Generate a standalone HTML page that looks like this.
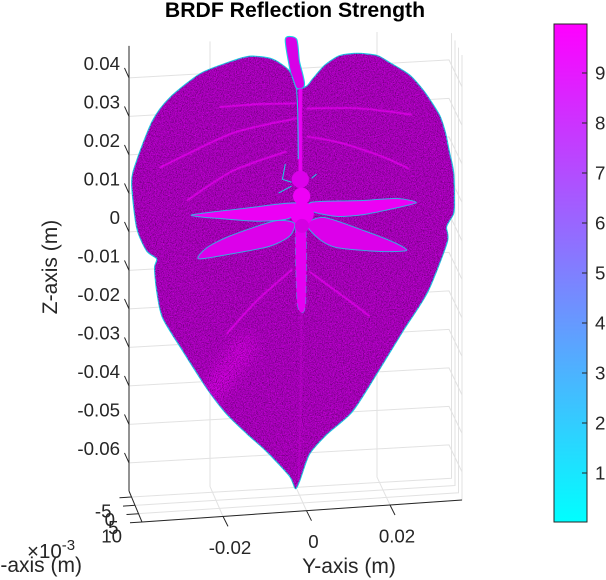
<!DOCTYPE html>
<html lang="en">
<head>
<meta charset="utf-8">
<title>BRDF Reflection Strength</title>
<style>
html,body{margin:0;padding:0;background:#fff;width:606px;height:580px;overflow:hidden}
svg{display:block;font-family:"Liberation Sans",Arial,sans-serif}
</style>
</head>
<body>
<svg id="chart" width="606" height="580" viewBox="0 0 606 580" xmlns="http://www.w3.org/2000/svg">
<defs>
<linearGradient id="coolMap" x1="0" y1="1" x2="0" y2="0">
<stop offset="0" stop-color="#00ffff"/>
<stop offset="1" stop-color="#ff00ff"/>
</linearGradient>
<filter id="speckleDark" x="0" y="0" width="100%" height="100%" color-interpolation-filters="sRGB">
<feTurbulence type="fractalNoise" baseFrequency="0.85" numOctaves="2" seed="4"/>
<feColorMatrix type="matrix" values="0 0 0 0 0.42  0 0 0 0 0  0 0 0 0 0.46  1.8 1.8 0 0 -1.55"/>
</filter>
<filter id="speckleBright" x="0" y="0" width="100%" height="100%" color-interpolation-filters="sRGB">
<feTurbulence type="fractalNoise" baseFrequency="0.9" numOctaves="2" seed="11"/>
<feColorMatrix type="matrix" values="0 0 0 0 0.88  0 0 0 0 0  0 0 0 0 0.95  1.8 1.8 0 0 -1.9"/>
</filter>
<filter id="soft" x="-30%" y="-30%" width="160%" height="160%"><feGaussianBlur stdDeviation="0.6"/></filter>
<filter id="softer" x="-50%" y="-50%" width="200%" height="200%"><feGaussianBlur stdDeviation="7"/></filter>
</defs>
<g id="grid"></g>
<g id="leaf"></g>
<g id="axes"></g>
<g id="colorbar"></g>
<text x="295" y="17" text-anchor="middle" font-size="21.2" font-weight="bold" fill="#000">BRDF Reflection Strength</text>
<text x="82" y="572" text-anchor="end" font-size="21" fill="#262626">X-axis (m)</text>
<text x="349" y="573" text-anchor="middle" font-size="21" fill="#262626">Y-axis (m)</text>
<text transform="translate(57 267) rotate(-90)" text-anchor="middle" font-size="21" fill="#262626">Z-axis (m)</text>
<text x="27" y="558" font-size="20.5" fill="#262626">×10<tspan dy="-8" font-size="15">-3</tspan></text>
</svg>
<script>
// Tick values
var zTicks = [-0.06, -0.05, -0.04, -0.03, -0.02, -0.01, 0, 0.01, 0.02, 0.03, 0.04];
var zTickLabels = ['-0.06', '-0.05', '-0.04', '-0.03', '-0.02', '-0.01', '0', '0.01', '0.02', '0.03', '0.04'];
var yTicks = [-0.02, 0, 0.02];
var yTickLabels = ['-0.02', '0', '0.02'];
var xTicks = [-0.005, 0, 0.005, 0.01];
var xTickLabels = ['-5', '0', '5', '10'];
var colorTicks = [1, 2, 3, 4, 5, 6, 7, 8, 9];
var colorLimits = [0.02, 9.98];

// Leaf outline in millimetres (y, z), on the plane x = 0
var leafY = [1.7, 3.1, 6, 9.6, 13.9, 18.6, 22, 26.3, 29.9, 33.5, 34.9, 35.9, 36.9, 37.1, 36.9, 35.2, 35.4, 30.7, 24.7, 18.4, 12.7, 6.5, 2.4, 0, -1, -2.4, -7.9, -12.5, -17.5, -22.3, -28, -32.8, -34.2, -34.7, -34.2, -36.6, -39, -40.2, -39, -35.2, -31.1, -23.9, -17.5, -12, -6.5, -2.4, -0.7];
var leafZ = [38.8, 40.5, 43.9, 46.2, 46.5, 45.6, 43.3, 40.1, 35.5, 29.2, 24.7, 19.4, 14.2, 6.4, 3.3, 0, -3.9, -16.6, -26.5, -37.2, -46.4, -52, -56.8, -63.7, -65.5, -62.2, -55.4, -50.6, -45, -37.9, -27.9, -19, -11.9, -5.9, -3.6, -1.4, 4.8, 16.6, 22.2, 32.3, 38, 43.7, 46.1, 47.5, 46.4, 43, 38.4];
var stemY = [-3.4, -0.7, 0, 1.2, -0.7, -2.2];
var stemZ = [51.4, 51.2, 45.4, 39.3, 36, 42.9];

// Veins
var veinNames = ['vein-left-1', 'vein-left-2', 'vein-left-3', 'vein-right-1', 'vein-right-2', 'vein-lower-left', 'vein-lower-right'];
var veinY = [[-0.7, -9.6, -19.2], [-0.7, -16, -33.5], [-3.1, -16, -27], [1.7, 14.4, 27], [1.7, 10.3, 19.8, 26.3], [-1.7, -10.3, -17.5], [2.4, 14.4, 16.8]];
var veinZ = [[34.5, 34.9, 34.8], [30.6, 27.8, 20], [22.2, 18, 11], [33, 32.2, 29.7], [25.8, 23.4, 19.3, 15.7], [-8.5, -16.2, -24.3], [-9.4, -19.8, -22]];
var midribY = [0, 0, 0.5];
var midribZ = [38.9, 16.8, -17];
var lowerMidribY = [0.5, 0.3, -0.2];
var lowerMidribZ = [-17, -40, -63.7];
var midribEdgeY = [-0.7, -0.4, -0.3];
var midribEdgeZ = [38.4, 32, 20];
var glowY = [-13, -21.5];
var glowZ = [-27.7, -40.1];

// Dragonfly
var wingNames = ['wing-upper-left', 'wing-upper-right', 'wing-lower-left', 'wing-lower-right'];
var wingY = [[-0.7, -12.7, -25.9, -18.4, -9.6, -2.4], [2.9, 15.1, 23.2, 28, 22.3, 15.1, 8.9, 3.1], [-6, -16.8, -22.3, -24.2, -16.8, -7.2, -2.4, -1.2], [6, 16, 23.2, 25.6, 19.2, 8.9, 4.8, 1.7]];
var wingZ = [[8.6, 8.1, 7.2, 5.7, 4.5, 4.8], [8.6, 8.2, 8.2, 6.8, 5.6, 4.5, 4.5, 6.2], [4.3, 1.1, -1.6, -4.3, -3.6, -2.2, 0.1, 3.4], [4.4, 0.1, -3.5, -5.5, -5.3, -3.6, -1.2, 2.9]];
var abdomenY = [-0.9, -0.6, 0.7, 1.5, 1.5];
var abdomenZ = [2.6, -17, -20, -17, 2.4];
var bodyNames = ['dragonfly-head', 'dragonfly-neck', 'dragonfly-thorax', 'dragonfly-hip'];
var bodyY = [0.2, 0.5, 0.6, 0.6];
var bodyZ = [14.7, 10.3, 5.8, 2.6];
var bodyR = [2.1, 2.1, 2.9, 1.7];
var antennaY = [[-3.4, -4.1, -1.9], [-5, -1.9], [4.1, 2.9]];
var antennaZ = [[18.9, 15, 14.1], [11.5, 13.1], [15.8, 14.8]];

// Axis limits
var xLim = [-0.0086, 0.01];
var yLim = [-0.0394, 0.03725];
var zLim = [-0.0673, 0.0483];

var NS = 'http://www.w3.org/2000/svg';
var INK = '#262626';
var GRID = '#e2e2e2';
var EDGE = '#1dcfe6';

function project(x, y, z) {
  var u = (y - yLim[0]) / (yLim[1] - yLim[0]);
  var v = (x - xLim[0]) / (xLim[1] - xLim[0]);
  var backX = 129 + u * 320, backY = 491 - u * 18;
  var frontX = 142 + u * 320, frontY = 522 - u * 22;
  return [backX + v * (frontX - backX), backY + v * (frontY - backY) - (z - zLim[0]) * 3850];
}
function mm(y, z) { return project(0, y / 1000, z / 1000); }
function colorToPx(c) {
  return 522 - (c - colorLimits[0]) / (colorLimits[1] - colorLimits[0]) * 498;
}
function mk(tag, attrs, parent) {
  var el = document.createElementNS(NS, tag);
  for (var k in attrs) el.setAttribute(k, attrs[k]);
  parent.appendChild(el);
  return el;
}
function fmt(n) { return n.toFixed(1); }
function smoothPath(ys, zs, closed) {
  var p = ys.map(function (y, i) { return mm(y, zs[i]); });
  var n = p.length;
  function at(i) { return closed ? p[(i + n) % n] : p[Math.max(0, Math.min(n - 1, i))]; }
  var d = 'M' + fmt(p[0][0]) + ' ' + fmt(p[0][1]);
  var last = closed ? n : n - 1;
  for (var i = 0; i < last; i++) {
    var a = at(i - 1), b = at(i), c = at(i + 1), e = at(i + 2);
    d += 'C' + fmt(b[0] + (c[0] - a[0]) / 8) + ' ' + fmt(b[1] + (c[1] - a[1]) / 8) + ' ' +
      fmt(c[0] - (e[0] - b[0]) / 8) + ' ' + fmt(c[1] - (e[1] - b[1]) / 8) + ' ' + fmt(c[0]) + ' ' + fmt(c[1]);
  }
  return d + (closed ? 'Z' : '');
}
function seg(parent, a, b, color, width) {
  return mk('line', { x1: fmt(a[0]), y1: fmt(a[1]), x2: fmt(b[0]), y2: fmt(b[1]), stroke: color, 'stroke-width': width }, parent);
}

var gridG = document.getElementById('grid');


zTicks.forEach(function (z) {
  var g = mk('polyline', { fill: 'none', stroke: GRID, 'stroke-width': 1,
    points: [project(xLim[0], yLim[0], z), project(xLim[0], yLim[1], z), project(xLim[1], yLim[1], z)].join(' ') }, gridG);
  
  
});
yTicks.forEach(function (y) {
  var g = mk('polyline', { fill: 'none', stroke: GRID, 'stroke-width': 1,
    points: [project(xLim[0], y, zLim[1]), project(xLim[0], y, zLim[0]), project(xLim[1], y, zLim[0])].join(' ') }, gridG);
  
  
});
xTicks.forEach(function (x) {
  var g = mk('polyline', { fill: 'none', stroke: GRID, 'stroke-width': 1,
    points: [project(x, yLim[0], zLim[0]), project(x, yLim[1], zLim[0]), project(x, yLim[1], zLim[1])].join(' ') }, gridG);
  
  
});

var leafG = document.getElementById('leaf');


var leafD = smoothPath(leafY, leafZ, true);
var stemD = smoothPath(stemY, stemZ, true);

var clip = mk('clipPath', { id: 'leafClip' }, document.querySelector('defs'));
mk('path', { d: leafD }, clip);

var stem = mk('path', { d: stemD, fill: '#d800e6', stroke: EDGE, 'stroke-width': 1.1, 'stroke-linejoin': 'miter' }, leafG);



var blade = mk('path', { d: leafD, fill: '#ae00c2', stroke: EDGE, 'stroke-width': 1.3, 'stroke-linejoin': 'round' }, leafG);



var inner = mk('g', { 'clip-path': 'url(#leafClip)' }, leafG);



var glow = mk('path', { d: smoothPath(glowY, glowZ, false), fill: 'none', stroke: '#e000ec', 'stroke-width': 22, 'stroke-linecap': 'round', filter: 'url(#softer)', opacity: 0.7 }, inner);



var noiseDark = mk('rect', { x: 120, y: 40, width: 345, height: 455, filter: 'url(#speckleDark)' }, inner);



var noiseBright = mk('rect', { x: 120, y: 40, width: 345, height: 455, filter: 'url(#speckleBright)' }, inner);



veinY.forEach(function (vy, i) {
  var v = mk('path', { d: smoothPath(vy, veinZ[i], false), fill: 'none', stroke: '#f000f8', 'stroke-width': 1.7, filter: 'url(#soft)', opacity: 0.8 }, inner);
  
  
});

var midrib = mk('path', { d: smoothPath(midribY, midribZ, false), fill: 'none', stroke: '#e800f2', 'stroke-width': 6, filter: 'url(#soft)' }, inner);



var lowerMidrib = mk('path', { d: smoothPath(lowerMidribY, lowerMidribZ, false), fill: 'none', stroke: '#d800e6', 'stroke-width': 2, filter: 'url(#soft)', opacity: 0.3 }, inner);



var midribEdge = mk('path', { d: smoothPath(midribEdgeY, midribEdgeZ, false), fill: 'none', stroke: EDGE, 'stroke-width': 1 }, leafG);



var flyG = mk('g', {}, leafG);


wingY.forEach(function (wy, i) {
  var w = mk('path', { d: smoothPath(wy, wingZ[i], true), fill: i < 2 ? '#ec00f4' : '#dc00ea', stroke: EDGE, 'stroke-width': 1, 'stroke-linejoin': 'round', 'stroke-opacity': 0.8 }, flyG);
  
  
});
var abdomen = mk('path', { d: smoothPath(abdomenY, abdomenZ, true), fill: '#e400f0', stroke: EDGE, 'stroke-width': 0.8, 'stroke-opacity': 0.55, 'stroke-dasharray': '7 4' }, flyG);


bodyY.forEach(function (by, i) {
  var c = mm(by, bodyZ[i]);
  var b = mk('circle', { cx: fmt(c[0]), cy: fmt(c[1]), r: fmt(bodyR[i] * 4.1), fill: i === 0 ? '#dc00ea' : (i === 3 ? '#d400e2' : '#ee00f6') }, flyG);
  
  
});
antennaY.forEach(function (ay, i) {
  var a = mk('polyline', { fill: 'none', stroke: EDGE, 'stroke-width': 1,
    points: ay.map(function (y, j) { return mm(y, antennaZ[i][j]); }).join(' ') }, flyG);
  
  
});

var axesG = document.getElementById('axes');


var zAxis = seg(axesG, project(xLim[0], yLim[0], zLim[0]), project(xLim[0], yLim[0], zLim[1]), INK, 1);


var xAxis = seg(axesG, project(xLim[0], yLim[0], zLim[0]), project(xLim[1], yLim[0], zLim[0]), INK, 1);


var yAxis = seg(axesG, project(xLim[1], yLim[0], zLim[0]), project(xLim[1], yLim[1], zLim[0]), INK, 1);



zTicks.forEach(function (z, i) {
  var p = project(xLim[0], yLim[0], z);
  var t = seg(axesG, p, [p[0] - 4.5, p[1] - 10], INK, 1);
  
  
  var l = mk('text', { x: 120, y: fmt(p[1] - 8), 'text-anchor': 'end', 'font-size': 18.7, fill: INK }, axesG);
  l.textContent = zTickLabels[i];
  
  
});
yTicks.forEach(function (y, i) {
  var p = project(xLim[1], y, zLim[0]);
  var t = seg(axesG, p, [p[0] + 5, p[1] + 10], INK, 1);
  
  
  var l = mk('text', { x: fmt(p[0] + 7), y: fmt(p[1] + 37.5), 'text-anchor': 'middle', 'font-size': 18.7, fill: INK }, axesG);
  l.textContent = yTickLabels[i];
  
  
});
xTicks.forEach(function (x, i) {
  var p = project(x, yLim[0], zLim[0]);
  var t = seg(axesG, p, [p[0] - 12, p[1] + 0.8], INK, 1);
  
  
  var l = mk('text', { x: fmt(p[0] - 20), y: fmt(p[1] + 20.5), 'text-anchor': 'end', 'font-size': 18.7, fill: INK }, axesG);
  l.textContent = xTickLabels[i];
  
  
});

var cbG = document.getElementById('colorbar');


var cbTop = colorToPx(colorLimits[1]);
var cbBottom = colorToPx(colorLimits[0]);
var bar = mk('rect', { x: 554, y: cbTop, width: 33, height: cbBottom - cbTop, fill: 'url(#coolMap)', stroke: INK, 'stroke-width': 1 }, cbG);


colorTicks.forEach(function (c) {
  var py = colorToPx(c);
  var t = seg(cbG, [582, py], [587, py], INK, 1);
  
  
  var l = mk('text', { x: 595, y: fmt(py + 6.5), 'font-size': 18.7, fill: INK }, cbG);
  l.textContent = String(c);
  
  
});
</script>
</body>
</html>
